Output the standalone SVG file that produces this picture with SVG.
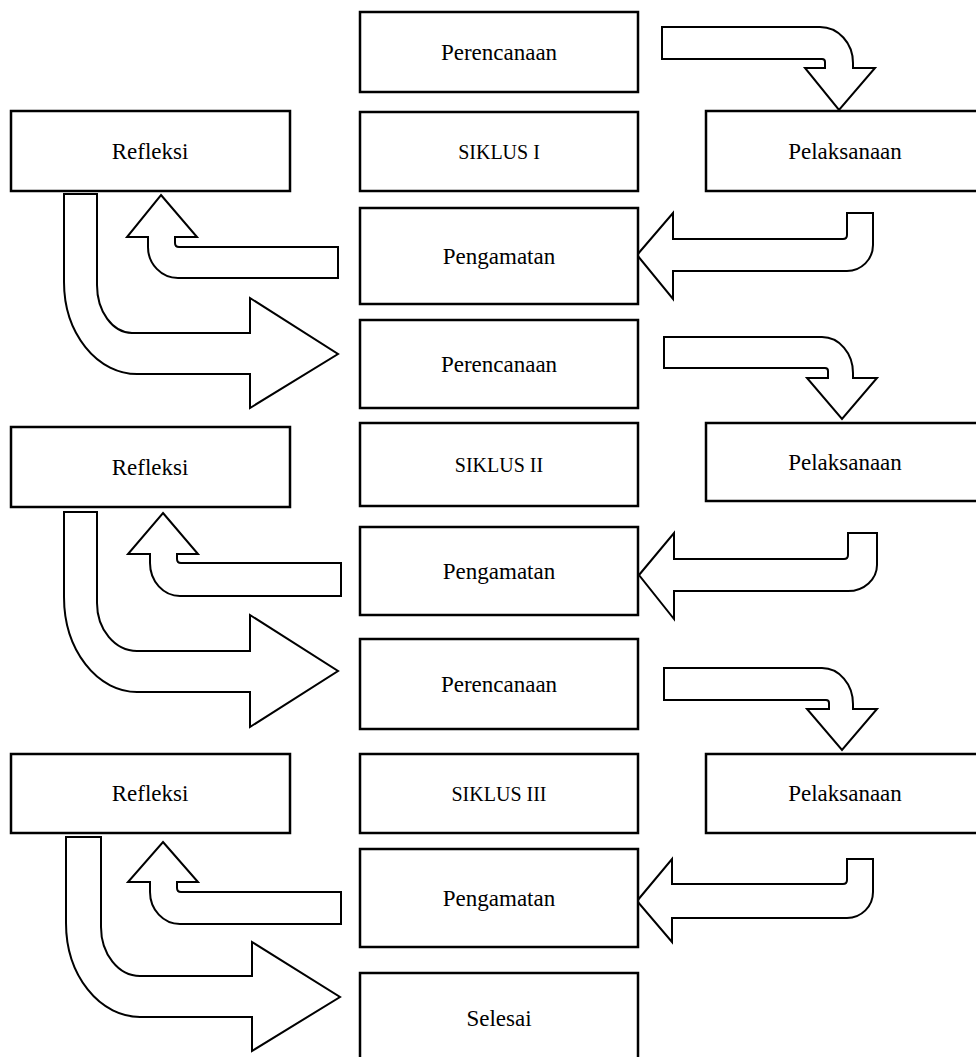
<svg xmlns="http://www.w3.org/2000/svg" width="976" height="1057" viewBox="0 0 976 1057">
<style>
.box{fill:#fff;stroke:#000;stroke-width:2.5}
.arr{fill:#fff;stroke:#000;stroke-width:2;stroke-linejoin:miter}
.lbl{font-family:"Liberation Serif","Times New Roman",serif;font-size:23px;fill:#000;text-anchor:middle}
.sik{font-family:"Liberation Serif","Times New Roman",serif;font-size:20px;fill:#000;text-anchor:middle}
</style>
<rect width="976" height="1057" fill="#fff"/>
<g id="connectors">
<path class="arr" d="M662,27 H820 A33,36 0 0 1 853,63 V68 H875 L839,110 L805,68 H825 V62 Q825,59 822,59 H662 Z"/>
<path class="arr" d="M637,255 L673,213 V239 H843 Q847,239 847,235 V213 H873 V245 A26,26 0 0 1 847,271 H673 V299 Z"/>
<path class="arr" d="M161,195 L197,237 H175 V243 Q175,247 179,247 H338 V278 H178 A30,31 0 0 1 148,247 V237 H127 Z"/>
<path class="arr" d="M64,194 H97 V285 A35,48 0 0 0 132,333 H250 V298 L338,354 L250,408 V374 H137 A73,92 0 0 1 64,282 Z"/>
<path class="arr" d="M664,337 H822 A31,36 0 0 1 853,373 V378 H877 L842,419 L807,378 H828 V371 Q828,368 825,368 H664 Z"/>
<path class="arr" d="M639,575 L674,533 V559 H844 Q848,559 848,555 V533 H877 V565 A29,26 0 0 1 848,591 H674 V619 Z"/>
<path class="arr" d="M163,513 L198,554 H177 V559 Q177,563 181,563 H341 V596 H180 A30,33 0 0 1 150,563 V554 H128 Z"/>
<path class="arr" d="M64,512 H97 V603 A40,48 0 0 0 137,651 H250 V615 L338,671 L250,727 V692 H137 A73,95 0 0 1 64,597 Z"/>
<path class="arr" d="M664,668 H822 A31,36 0 0 1 853,704 V709 H877 L842,750 L807,709 H829 V703 Q829,700 826,700 H664 Z"/>
<path class="arr" d="M637,901 L672,859 V884 H843 Q847,884 847,880 V859 H873 V892 A26,26 0 0 1 847,918 H672 V942 Z"/>
<path class="arr" d="M163,842 L198,882 H177 V888 Q177,892 181,892 H341 V924 H180 A30,32 0 0 1 150,892 V882 H128 Z"/>
<path class="arr" d="M66,837 H101 V927 A39,49 0 0 0 140,976 H252 V942 L340,997 L252,1051 V1017 H140 A74,94 0 0 1 66,923 Z"/>
</g>
<g id="perencanaan1"><rect class="box" x="360" y="12" width="278" height="80"/><text class="lbl" x="499" y="60">Perencanaan</text></g>
<g id="siklus1"><rect class="box" x="360" y="112" width="278" height="79"/><text class="sik" x="499" y="159">SIKLUS I</text></g>
<g id="refleksi1"><rect class="box" x="11" y="111" width="279" height="80"/><text class="lbl" x="150" y="159">Refleksi</text></g>
<g id="pelaksanaan1"><rect class="box" x="706" y="111" width="280" height="80"/><text class="lbl" x="845" y="159">Pelaksanaan</text></g>
<g id="pengamatan1"><rect class="box" x="360" y="208" width="278" height="96"/><text class="lbl" x="499" y="264">Pengamatan</text></g>
<g id="perencanaan2"><rect class="box" x="360" y="320" width="278" height="88"/><text class="lbl" x="499" y="372">Perencanaan</text></g>
<g id="siklus2"><rect class="box" x="360" y="423" width="278" height="83"/><text class="sik" x="499" y="472">SIKLUS II</text></g>
<g id="refleksi2"><rect class="box" x="11" y="427" width="279" height="80"/><text class="lbl" x="150" y="475">Refleksi</text></g>
<g id="pelaksanaan2"><rect class="box" x="706" y="423" width="280" height="78"/><text class="lbl" x="845" y="470">Pelaksanaan</text></g>
<g id="pengamatan2"><rect class="box" x="360" y="527" width="278" height="88"/><text class="lbl" x="499" y="579">Pengamatan</text></g>
<g id="perencanaan3"><rect class="box" x="360" y="639" width="278" height="90"/><text class="lbl" x="499" y="692">Perencanaan</text></g>
<g id="refleksi3"><rect class="box" x="11" y="754" width="279" height="79"/><text class="lbl" x="150" y="801">Refleksi</text></g>
<g id="siklus3"><rect class="box" x="360" y="754" width="278" height="79"/><text class="sik" x="499" y="801">SIKLUS III</text></g>
<g id="pelaksanaan3"><rect class="box" x="706" y="754" width="280" height="79"/><text class="lbl" x="845" y="801">Pelaksanaan</text></g>
<g id="pengamatan3"><rect class="box" x="360" y="849" width="278" height="98"/><text class="lbl" x="499" y="906">Pengamatan</text></g>
<g id="selesai"><rect class="box" x="360" y="973" width="278" height="95"/><text class="lbl" x="499" y="1026">Selesai</text></g>
</svg>
